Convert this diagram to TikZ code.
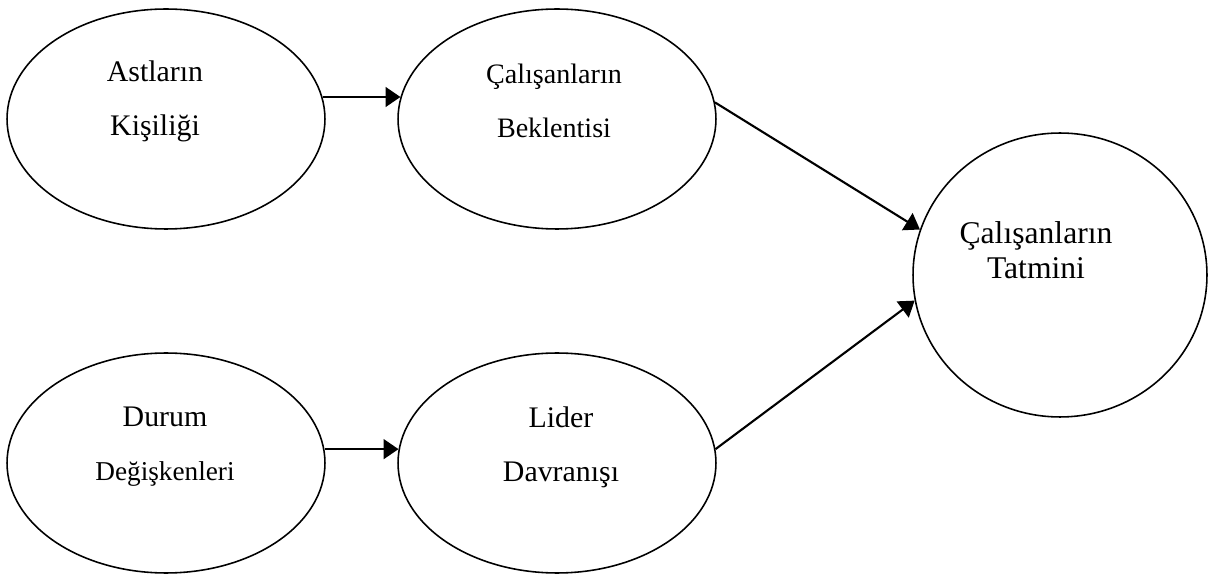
\documentclass[tikz,border=0pt]{standalone}
\usepackage{fontspec}
\setmainfont{Liberation Serif}
\usetikzlibrary{shapes.geometric,arrows.meta}
\begin{document}
\begin{tikzpicture}[x=0.02cm,y=-0.02cm]
  \tikzset{oval/.style={shape=ellipse,draw,line width=0.9pt,minimum width=6.36cm,minimum height=4.4cm,inner sep=0pt}};
  \tikzset{yazi/.style={align=center,inner sep=0pt,font=\fontsize{17}{30.6}\selectfont}};
  \tikzset{ok/.style={line width=1.2pt,-{Triangle[length=8.5pt,width=11.3pt]}}};
  \useasboundingbox (0,0) rectangle (1208,574);
  \node[oval](Ast) at (166,119){};
  \node[oval](Cal) at (557,119){};
  \node[oval](Dur) at (166,463){};
  \node[oval](Lid) at (557,463){};
  \node[oval,minimum width=5.88cm,minimum height=5.68cm](Tat) at (1060,275){};
  \node[yazi](AstT) at (155,101){Astların\\Kişiliği};
  \node[yazi,font=\fontsize{16}{30.6}\selectfont](CalT) at (554,101){Çalışanların\\Beklentisi};
  \node[yazi](DurT) at (165,447){Durum\\{\fontsize{15.5}{30.6}\selectfont Değişkenleri}};
  \node[yazi](LidT) at (561,447){Lider\\Davranışı};
  \node[yazi,font=\fontsize{18}{19.8}\selectfont](TatT) at (1036,250){Çalışanların\\Tatmini};
  \draw[ok] (Ast.8) -- (Cal.172);
  \draw[ok] (Dur.5) -- (Lid.175);
  \draw[ok] (Cal.6) -- (Tat.162);
  \draw[ok] (Lid.5) -- (Tat.190);
\end{tikzpicture}
\end{document}
